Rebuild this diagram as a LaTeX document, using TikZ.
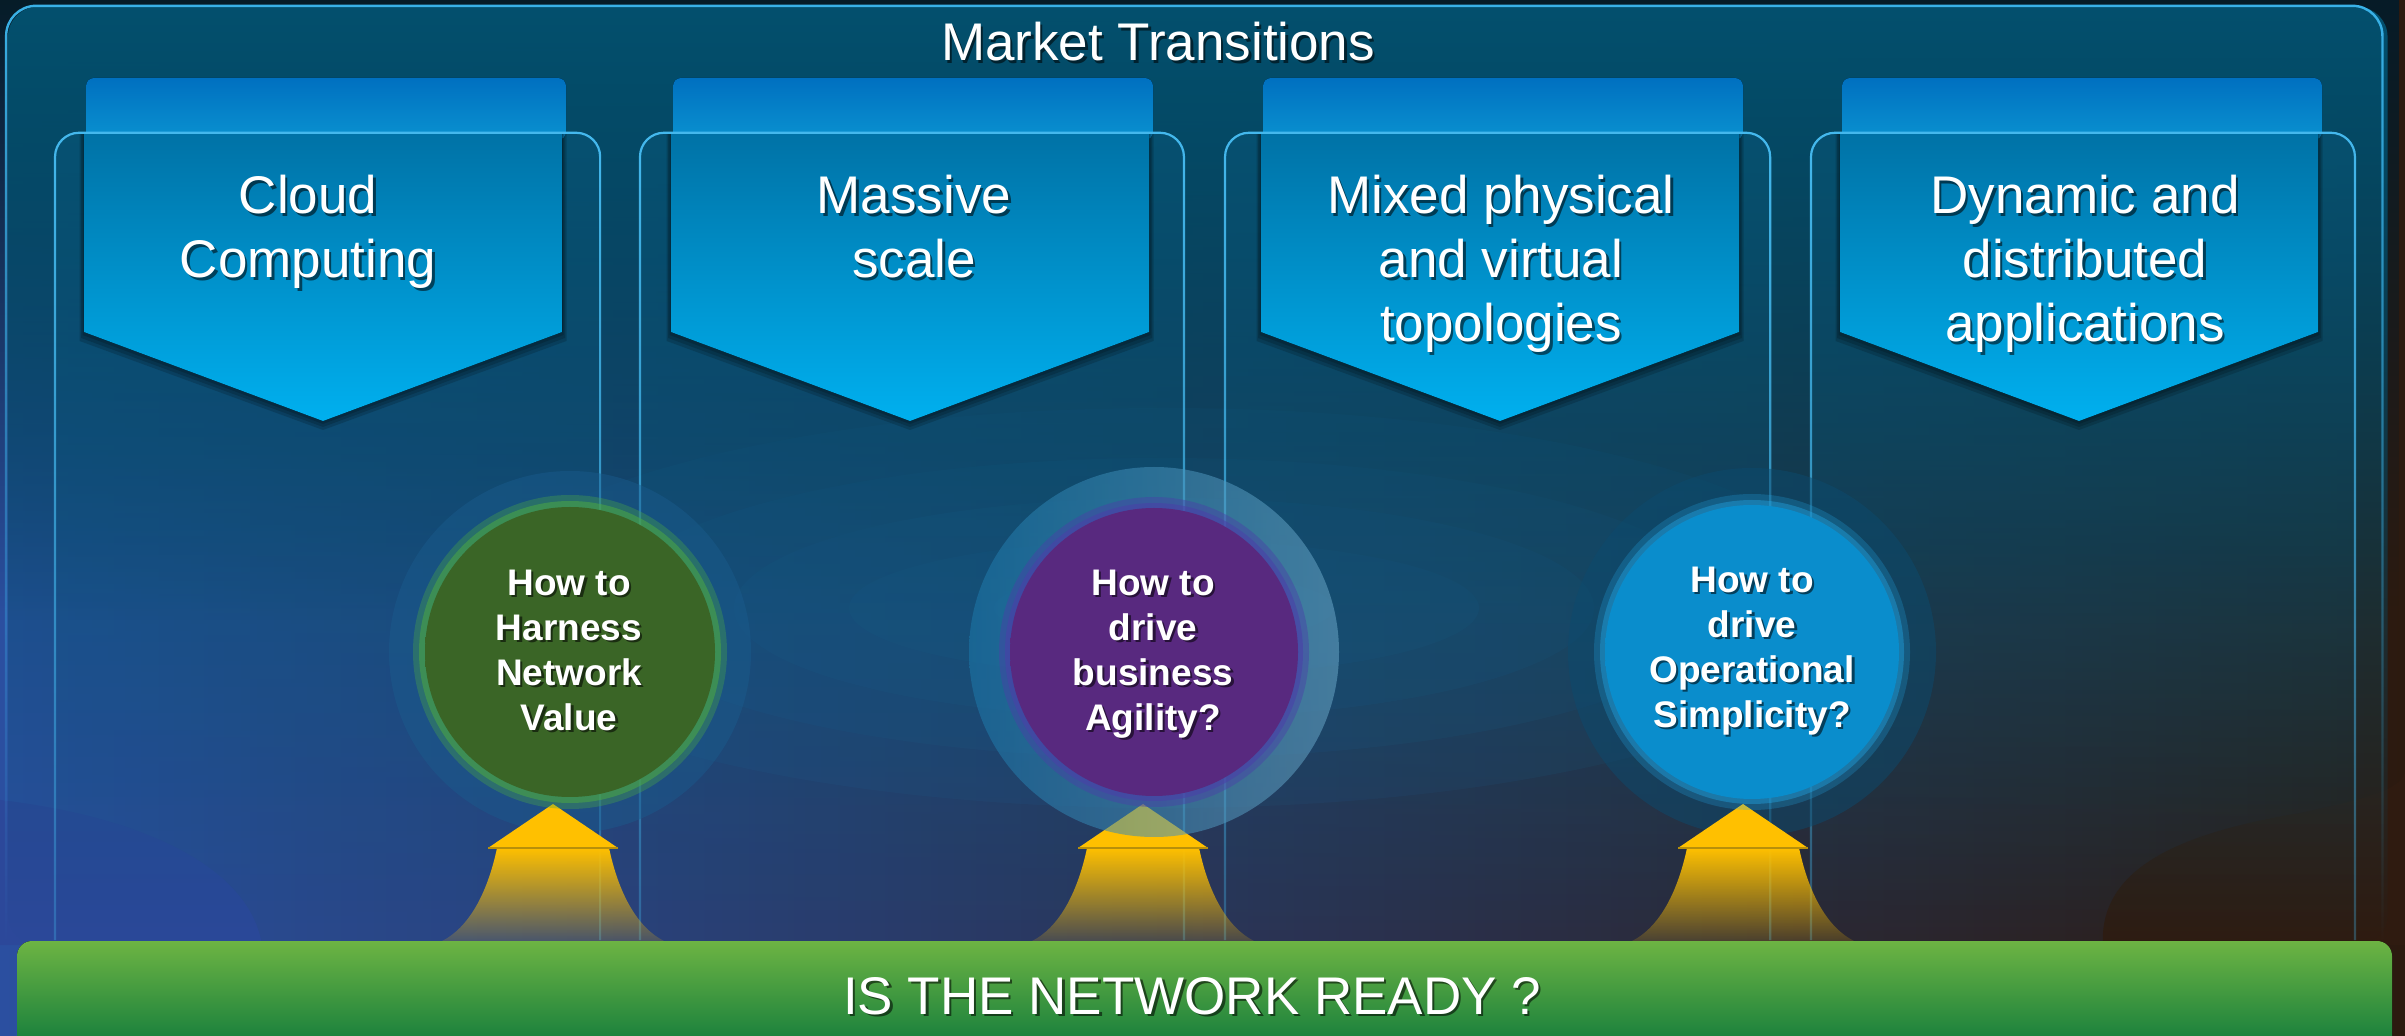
\documentclass[tikz,border=0pt]{standalone}
\usepackage{fontspec}
\setmainfont{Liberation Sans}
\usetikzlibrary{fadings,shadows}
\definecolor{bgL}{HTML}{2B4FA0}
\definecolor{bgM}{HTML}{0D2C52}
\definecolor{bgR}{HTML}{2C1A0F}
\definecolor{topdark}{HTML}{061C28}
\definecolor{blobL}{HTML}{2C489A}
\definecolor{blobR}{HTML}{2F1B10}
\definecolor{glowE}{HTML}{1E72AA}
\definecolor{frameFill}{HTML}{03506E}
\definecolor{frameLine}{HTML}{3AB2E8}
\definecolor{colFill}{HTML}{0A5F85}
\definecolor{colLine}{HTML}{45B9EE}
\definecolor{tabTop}{HTML}{0070C0}
\definecolor{tabMid}{HTML}{00629F}
\definecolor{tabBot}{HTML}{0A92D0}
\definecolor{chevTop}{HTML}{0072A6}
\definecolor{chevBot}{HTML}{00B0EF}
\definecolor{arrowY}{HTML}{FFC000}
\definecolor{arrowEdge}{HTML}{B8900A}
\definecolor{barTop}{HTML}{6DB443}
\definecolor{barMid}{HTML}{4A9C40}
\definecolor{barBot}{HTML}{117B3C}
\definecolor{haloG}{HTML}{1A5C8E}
\definecolor{haloPl}{HTML}{1C78AA}
\definecolor{haloPr}{HTML}{6AA6C6}
\definecolor{haloB}{HTML}{0C4A6E}
\definecolor{glowG}{HTML}{4CA843}
\definecolor{glowP}{HTML}{4A40A8}
\definecolor{glowB}{HTML}{22A8E8}
\definecolor{orbGc}{HTML}{3A6526}
\definecolor{orbGm}{HTML}{44722B}
\definecolor{orbGe}{HTML}{5E9C3C}
\definecolor{orbGr}{HTML}{86C466}
\definecolor{orbPc}{HTML}{58297F}
\definecolor{orbPm}{HTML}{5F2F8A}
\definecolor{orbPe}{HTML}{7443A6}
\definecolor{orbPr}{HTML}{9C74CC}
\definecolor{orbBc}{HTML}{0A8DCC}
\definecolor{orbBm}{HTML}{0C93D2}
\definecolor{orbBe}{HTML}{1AA2DE}
\definecolor{orbBr}{HTML}{5CD0FA}
\tikzfading[name=fadeS, top color=transparent!0, bottom color=transparent!100]
\tikzfading[name=frameFade, top color=transparent!0, middle color=transparent!92, bottom color=transparent!100]
\tikzfading[name=frameLineFade, top color=transparent!0, middle color=transparent!75, bottom color=transparent!100]
\tikzfading[name=colLineFade, top color=transparent!0, bottom color=transparent!70]
\tikzfading[name=shaftFade, top color=transparent!0, middle color=transparent!15, bottom color=transparent!85]
\pgfdeclareradialshading{orbG}{\pgfpoint{0bp}{0bp}}{color(0bp)=(orbGc); color(30bp)=(orbGc); color(44bp)=(orbGm); color(48.5bp)=(orbGe); color(50bp)=(orbGr)}
\pgfdeclareradialshading{orbP}{\pgfpoint{0bp}{0bp}}{color(0bp)=(orbPc); color(30bp)=(orbPc); color(44bp)=(orbPm); color(48.5bp)=(orbPe); color(50bp)=(orbPr)}
\pgfdeclareradialshading{orbB}{\pgfpoint{0bp}{0bp}}{color(0bp)=(orbBc); color(30bp)=(orbBc); color(44bp)=(orbBm); color(48.5bp)=(orbBe); color(50bp)=(orbBr)}
\begin{document}
\begin{tikzpicture}[x=0.5pt,y=-0.5pt,
  bigtxt/.style={text=white, font=\fontsize{26.5}{32}\selectfont, align=center, inner sep=0pt},
  orbtxt/.style={text=white, font=\fontsize{18.5}{22.5}\selectfont\bfseries, align=center, inner sep=0pt},
  shadowtxt/.style={text=black, text opacity=0.55},
  tabshade/.style={top color=tabTop, middle color=tabMid, bottom color=tabBot, rounded corners=4pt},
  chevshade/.style={top color=chevTop, bottom color=chevBot},
  chevshadow/.style={fill=black, opacity=0.16},
  arrowshaft/.style={fill=arrowY, path fading=shaftFade},
  arrowhead/.style={fill=arrowY}]
\useasboundingbox (0,0) rectangle (2405,1036);
\clip (0,0) rectangle (2405,1036);
% background
\fill[left color=bgL, middle color=bgM, right color=bgR] (0,0) rectangle (2405,1036);
\fill[topdark, path fading=fadeS] (0,0) rectangle (2405,620);
\fill[blobL] (0,800) .. controls (150,818) and (250,870) .. (262,945) -- (0,945) -- cycle;
\fill[blobR] (2103,945) .. controls (2098,860) and (2200,830) .. (2300,813) .. controls (2360,800) and (2405,790) .. (2405,770) -- (2405,945) -- cycle;
\foreach \rx/\ry in {700/200, 560/150, 430/110, 315/68, 170/36}
  \fill[glowE, opacity=0.1] (1164,608) ellipse [x radius=\rx, y radius=\ry];
% outer frame
\fill[frameFill, path fading=frameFade, rounded corners=15pt] (8,6) rectangle (2388,945);
\draw[frameLine, line width=1.2pt, path fading=frameLineFade, rounded corners=15pt] (8,945) -- (8,6) -- (2388,6) -- (2388,945);
% column fills
\foreach \FL/\FR in {55/600, 640/1184, 1225/1770, 1811/2355}
  \fill[colFill, opacity=0.35, path fading=fadeS, rounded corners=12pt] (\FL,132) rectangle (\FR,980);
% tabs and chevrons
\foreach \L in {84, 671, 1261, 1840}{
  \fill[tabshade] (\L+2,78) rectangle (\L+482,140);
  \foreach \d in {3,6,9}
    \fill[chevshadow] (\L-\d/2,133) -- (\L+478+\d/2,133) -- (\L+478+\d/2,332+\d) -- (\L+239,421+\d) -- (\L-\d/2,332+\d) -- cycle;
  \fill[chevshade] (\L,133) -- (\L+478,133) -- (\L+478,332) -- (\L+239,421) -- (\L,332) -- cycle;
}
% column frame lines
\foreach \FL/\FR in {55/600, 640/1184, 1225/1770, 1811/2355}
  \draw[colLine, line width=1.1pt, path fading=colLineFade, rounded corners=12pt] (\FL,940) -- (\FL,132) -- (\FR,132) -- (\FR,940);
% chevron texts
\node[bigtxt, shadowtxt, anchor=north] (c1s) at (310.5,177.5) {Cloud\\Computing};
\node[bigtxt, anchor=north] (c1) at (308,175) {Cloud\\Computing};
\node[bigtxt, shadowtxt, anchor=north] (c2s) at (916.5,177.5) {Massive\\scale};
\node[bigtxt, anchor=north] (c2) at (914,175) {Massive\\scale};
\node[bigtxt, shadowtxt, anchor=north] (c3s) at (1503.5,177.5) {Mixed physical\\and virtual\\topologies};
\node[bigtxt, anchor=north] (c3) at (1501,175) {Mixed physical\\and virtual\\topologies};
\node[bigtxt, shadowtxt, anchor=north] (c4s) at (2087.5,177.5) {Dynamic and\\distributed\\applications};
\node[bigtxt, anchor=north] (c4) at (2085,175) {Dynamic and\\distributed\\applications};
% halos behind arrows
\fill[haloG, opacity=0.45] (570,652) circle[radius=181];
\fill[haloB, opacity=0.5] (1752,652) circle[radius=184];
% arrows
\foreach \cx in {553, 1143, 1743}{
  \fill[arrowshaft] (\cx-56,848) -- (\cx+56,848) .. controls (\cx+66,895) and (\cx+85,928) .. (\cx+111,941) -- (\cx-111,941) .. controls (\cx-85,928) and (\cx-66,895) .. (\cx-56,848) -- cycle;
  \fill[arrowhead] (\cx-65,848) -- (\cx,804) -- (\cx+65,848) -- cycle;
  \draw[arrowEdge, line width=0.6pt] (\cx-65,848) -- (\cx+65,848);
}
\shade[left color=haloPl, right color=haloPr, opacity=0.55] (1154,652) circle[radius=185];
% glows
\fill[glowG, opacity=0.35] (570,652) circle[radius=157];
\fill[glowG, opacity=0.55] (570,652) circle[radius=151];
\fill[glowP, opacity=0.45] (1154,652) circle[radius=155];
\fill[glowP, opacity=0.55] (1154,652) circle[radius=149];
\fill[glowB, opacity=0.25] (1752,652) circle[radius=158];
\fill[glowB, opacity=0.4] (1752,652) circle[radius=152];
% orbs
\shade[shading=orbG] (570,652) circle[radius=145];
\shade[shading=orbP] (1154,652) circle[radius=144];
\shade[shading=orbB] (1752,652) circle[radius=147];
% orb texts
\node[orbtxt, shadowtxt, anchor=north] (q1s) at (571.5,571.5) {How to\\Harness\\Network\\Value};
\node[orbtxt, anchor=north] (q1) at (569,569.5) {How to\\Harness\\Network\\Value};
\node[orbtxt, shadowtxt, anchor=north] (q2s) at (1155.5,571.5) {How to\\drive\\business\\Agility?};
\node[orbtxt, anchor=north] (q2) at (1153,569.5) {How to\\drive\\business\\Agility?};
\node[orbtxt, shadowtxt, anchor=north] (q3s) at (1754.5,568.5) {How to\\drive\\Operational\\Simplicity?};
\node[orbtxt, anchor=north] (q3) at (1752,566.5) {How to\\drive\\Operational\\Simplicity?};
% green bar
\fill[top color=barTop, middle color=barMid, bottom color=barBot, rounded corners=7.5pt] (17,941) rectangle (2392,1051);
\node[bigtxt, shadowtxt, anchor=base] (bars) at (1194.5,1016.5) {IS THE NETWORK READY ?};
\node[bigtxt, anchor=base] (bar) at (1192,1014) {IS THE NETWORK READY ?};
% title
\node[bigtxt, shadowtxt, anchor=base] (titles) at (1160.5,63.5) {Market Transitions};
\node[bigtxt, anchor=base] (title) at (1158,61) {Market Transitions};
\end{tikzpicture}
\end{document}
